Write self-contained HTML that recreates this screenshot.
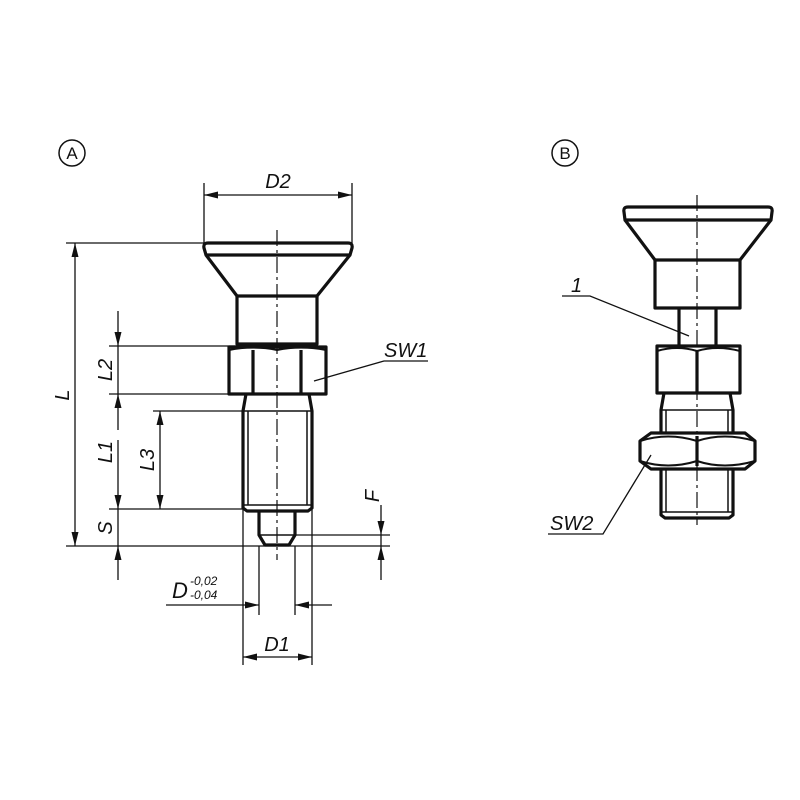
<!DOCTYPE html>
<html><head><meta charset="utf-8"><style>
html,body{margin:0;padding:0;background:#fff}
svg{display:block}
text{font-family:"Liberation Sans",sans-serif;font-style:italic;fill:#111}
</style></head><body>
<svg width="800" height="800" viewBox="0 0 800 800" xmlns="http://www.w3.org/2000/svg">
<defs>
<marker id="ar" viewBox="0 0 14 7" refX="14" refY="3.5" markerWidth="14" markerHeight="7" markerUnits="userSpaceOnUse" orient="auto">
<path d="M0,0 L14,3.5 L0,7 z" fill="#111"/></marker>
</defs>
<g fill="none" stroke="#111">
<circle cx="72" cy="153" r="13" stroke-width="1.5"/>
<circle cx="565" cy="153" r="13" stroke-width="1.5"/>

<!-- ===== A ===== -->
<g stroke-width="3.2" stroke-linejoin="round">
<path d="M208,243 L348,243 Q353,243 352,248 L350,255 L206,255 L204,248 Q203,243 208,243 Z"/>
<path d="M206,255 L237,296 M350,255 L317,296"/>
<rect x="237" y="296" width="80" height="48"/>
<rect x="229" y="347" width="97" height="47"/>
<path d="M253,350 L253,394 M301,350 L301,394"/>
<path d="M229,350 Q253,345 277,350 Q301,345 326,350" stroke-width="2"/>
<path d="M246,394 L243,411 L243,508 L247,511 L308,511 L312,508 L312,411 L309,394"/>
<path d="M259,511 L259,535 L265,545 L289,545 L295,535 L295,511"/>
</g>
<g stroke-width="1.5">
<path d="M243,411 L312,411 M248,411 L248,505 M307,411 L307,505 M243,505 L312,505 M259,535 L295,535"/>
</g>
<path d="M277,230 L277,560" stroke-width="1.2" stroke-dasharray="16,4,3,4"/>

<g stroke-width="1.3">
<path d="M204,183 L204,243 M352,183 L352,243"/>
<path d="M240,195 L204,195" marker-end="url(#ar)"/>
<path d="M316,195 L352,195" marker-end="url(#ar)"/>
<path d="M240,195 L316,195"/>
<path d="M66,243 L204,243"/>
<path d="M109,346 L237,346"/>
<path d="M109,394 L229,394"/>
<path d="M153,411 L243,411"/>
<path d="M109,509 L243,509"/>
<path d="M66,546 L390,546"/>
<path d="M295,535 L390,535"/>
<path d="M75,300 L75,243" marker-end="url(#ar)"/>
<path d="M75,480 L75,546" marker-end="url(#ar)"/>
<path d="M75,300 L75,480"/>
<path d="M118,311 L118,346" marker-end="url(#ar)"/>
<path d="M118,430 L118,394" marker-end="url(#ar)"/>
<path d="M118,346 L118,394"/>
<path d="M118,440 L118,509" marker-end="url(#ar)"/>
<path d="M118,580 L118,546" marker-end="url(#ar)"/>
<path d="M118,509 L118,546"/>
<path d="M160,460 L160,411" marker-end="url(#ar)"/>
<path d="M160,460 L160,509" marker-end="url(#ar)"/>
<path d="M381,505 L381,535" marker-end="url(#ar)"/>
<path d="M381,580 L381,546" marker-end="url(#ar)"/>
<path d="M381,535 L381,546"/>
<path d="M259,546 L259,615 M295,546 L295,615"/>
<path d="M243,509 L243,665 M312,509 L312,665"/>
<path d="M166,605 L259,605" marker-end="url(#ar)"/>
<path d="M332,605 L295,605" marker-end="url(#ar)"/>
<path d="M277,657 L243,657" marker-end="url(#ar)"/>
<path d="M277,657 L312,657" marker-end="url(#ar)"/>
<path d="M314,381 L384,361 L428,361"/>
</g>

<!-- ===== B ===== -->
<g stroke-width="3.2" stroke-linejoin="round">
<path d="M628,207 L768,207 Q773,207 772,212 L771,220 L625,220 L624,212 Q623,207 628,207 Z"/>
<path d="M625,220 L655,260 M771,220 L740,260"/>
<rect x="655" y="260" width="85" height="48"/>
<path d="M679,308 L679,346 M716,308 L716,346"/>
<rect x="657" y="346" width="83" height="47"/>
<path d="M697,350 L697,393"/>
<path d="M657,351 Q677,345 697,351 Q717,345 740,351" stroke-width="2"/>
<path d="M664,393 L661,410 L661,515 L665,518 L729,518 L733,515 L733,410 L730,393"/>
<path d="M651,433 L745,433 L755,441 L755,461 L745,469 L651,469 L640,461 L640,441 Z" fill="#fff"/>
<path d="M697,436 L697,466"/>
<path d="M640,441 Q668,432 697,441 Q724,432 755,441" stroke-width="2"/>
<path d="M640,461 Q668,470 697,461 Q724,470 755,461" stroke-width="2"/>
</g>
<g stroke-width="1.5">
<path d="M661,410 L733,410 M666,410 L666,433 M728,410 L728,433 M666,469 L666,512 M728,469 L728,512 M661,512 L733,512"/>
</g>
<path d="M697,195 L697,525" stroke-width="1.2" stroke-dasharray="16,4,3,4"/>
<g stroke-width="1.3">
<path d="M562,296 L590,296 L689,336"/>
<path d="M548,534 L603,534 L651,455"/>
</g>
</g>

<text x="72" y="159" text-anchor="middle" font-size="17" style="font-style:normal">A</text>
<text x="565" y="159" text-anchor="middle" font-size="17" style="font-style:normal">B</text>
<text x="278" y="188" text-anchor="middle" font-size="20">D2</text>
<text x="384" y="357" font-size="20">SW1</text>
<text font-size="20" transform="translate(69,395) rotate(-90)" text-anchor="middle">L</text>
<text font-size="20" transform="translate(112,370) rotate(-90)" text-anchor="middle">L2</text>
<text font-size="20" transform="translate(112,452) rotate(-90)" text-anchor="middle">L1</text>
<text font-size="20" transform="translate(154,460) rotate(-90)" text-anchor="middle">L3</text>
<text font-size="20" transform="translate(112,528) rotate(-90)" text-anchor="middle">S</text>
<text font-size="20" transform="translate(379,496) rotate(-90)" text-anchor="middle">F</text>
<text x="172" y="598" font-size="22">D</text>
<text x="190" y="585" font-size="12">-0,02</text>
<text x="190" y="599" font-size="12">-0,04</text>
<text x="277" y="651" text-anchor="middle" font-size="20">D1</text>
<text x="571" y="292" font-size="20">1</text>
<text x="550" y="530" font-size="20">SW2</text>
</svg>
</body></html>
